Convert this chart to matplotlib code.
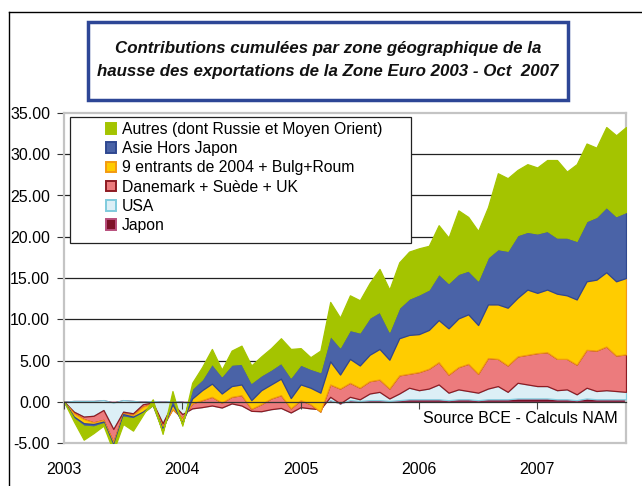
import numpy as np
import matplotlib
matplotlib.use("Agg")
from matplotlib import pyplot as plt
from matplotlib.patches import Rectangle, Patch
from matplotlib.lines import Line2D

plt.rcParams['font.family'] = ['Liberation Sans', 'DejaVu Sans']

#------------- données : contributions mensuelles janv. 2003 -> oct. 2007 -------------
months = np.arange(58)
year_ticks = [0, 12, 24, 36, 48]
year_labels = ["2003", "2004", "2005", "2006", "2007"]

japon = [0, 0.1, 0.1, 0.1, 0.2, -0.1, 0.2, 0.1, 0, 0.1, 0, 0.1,
         0, -0.3, -0.3, -0.2, -0.3, -0.1, -0.2, -0.4, -0.4, -0.3, -0.3, -0.4,
         -0.2, -0.3, -0.3, 0.2, -0.2, 0.2, 0.1, 0.2, 0.2, 0.1, 0.2, 0.3,
         0.3, 0.3, 0.3, 0.2, 0.3, 0.3, 0.2, 0.3, 0.3, 0.3, 0.4, 0.4,
         0.4, 0.4, 0.3, 0.3, 0.2, 0.4, 0.3, 0.3, 0.3, 0.3]
usa = [0, -1.3, -1.9, -1.8, -1.2, -3.2, -1.4, -1.5, -0.3, -0.2, -2.6, -0.3,
       -1.5, -0.5, -0.35, -0.25, -0.4, -0.1, -0.25, -0.7, -0.75, -0.6, -0.45, -0.9,
       -0.45, -0.5, -0.6, 0.4, 0.0, 0.4, 0.2, 0.8, 1.0, 0.3, 0.8, 1.4,
       1.1, 1.3, 1.8, 0.9, 1.2, 1.0, 0.9, 1.3, 1.6, 0.9, 1.9, 1.7,
       1.5, 1.5, 1.1, 1.2, 0.7, 1.3, 1.0, 1.1, 1.0, 0.9]
danemark = [0, -0.2, -0.3, -0.8, -1.2, -1.6, -0.2, -0.2, -0.3, -0.1, -0.4, -0.7,
            -0.5, 0.6, 0.85, 1.05, 0.6, 0.8, 1.25, 0.25, 0.85, 1.3, 1.55, 0.5,
            0.85, 0.5, -0.3, 1.5, 1.8, 1.7, 1.4, 1.5, 1.5, 1.2, 2.2, 1.7,
            2.2, 2.4, 2.7, 2.2, 2.7, 3.3, 2.3, 3.7, 3.3, 3.2, 3.2, 3.6,
            4.0, 4.1, 3.8, 3.7, 3.6, 4.6, 4.9, 5.3, 4.3, 4.55]
entrants = [0, -0.4, -0.5, -0.2, -0.2, -0.3, -0.1, -0.2, -0.6, -0.1, -0.3, 0.6,
            -0.5, 0.6, 1.2, 1.6, 1.1, 1.3, 1.3, 1.05, 1.7, 1.7, 2.0, 1.25,
            1.9, 2.0, 2.3, 2.8, 1.7, 2.9, 2.7, 3.2, 3.7, 3.5, 4.5, 4.7,
            4.6, 4.7, 5.1, 5.6, 5.9, 6.0, 5.9, 6.5, 6.6, 7.0, 7.1, 7.9,
            7.3, 7.6, 7.9, 7.7, 7.9, 8.3, 8.6, 9.0, 9.0, 9.25]
asie = [0, -0.2, -0.3, -0.3, -0.2, -0.3, -0.3, -0.2, -0.15, -0.1, -0.3, 0.7,
        -0.2, 1.2, 1.3, 2.4, 2.1, 2.6, 2.5, 2.1, 1.8, 1.8, 1.9, 2.5,
        2.4, 2.3, 2.5, 3.1, 3.3, 3.5, 4.0, 4.5, 4.5, 3.4, 3.7, 4.4,
        4.8, 4.9, 5.6, 5.5, 5.4, 5.3, 5.4, 5.7, 6.7, 6.9, 7.6, 7.0,
        7.2, 7.1, 6.8, 7.0, 7.1, 7.3, 7.6, 7.9, 7.9, 8.0]
autres = [0, -0.4, -1.7, -0.8, -0.3, -0.5, -0.9, -1.5, -0.25, 0.7, -0.3, 0.9,
          -0.2, 0.7, 1.5, 1.8, 0.8, 1.7, 2.2, 2.1, 2.3, 2.6, 3.0, 3.45,
          2.0, 1.4, 2.6, 4.1, 3.6, 4.2, 3.9, 4.2, 5.2, 5.1, 5.5, 5.7,
          5.6, 5.3, 5.9, 5.5, 7.7, 6.5, 6.0, 6.1, 9.2, 8.8, 7.9, 8.2,
          8.0, 8.6, 9.4, 8.0, 9.3, 9.4, 8.4, 9.7, 9.8, 10.3]

names = ["Japon", "USA", "Danemark + Suède + UK", "9 entrants de 2004 + Bulg+Roum",
         "Asie Hors Japon", "Autres (dont Russie et Moyen Orient)"]
fills = ["#7D1128", "#DCEFF6", "#EC7B7D", "#FFCC00", "#4A63A7", "#A4C400"]
edges = ["#B84F7C", "#7FCBDD", "#8E1B22", "#F39A12", "#2F4890", "#A4C400"]

#------------- figure -------------
W, H = 642, 486
fig = plt.figure(figsize=(W / 100, H / 100), dpi=100)
fig.patch.set_facecolor("white")

def fx(px):
    return px / W

def fy(py):
    return 1 - py / H

ax = fig.add_axes([fx(64), fy(443), fx(626) - fx(64), fy(113) - fy(443)])

series = np.vstack([japon, usa, danemark, entrants, asie, autres])
tops = np.cumsum(series, axis=0)
bottom = np.zeros(len(months))
for k in range(len(names)):
    ax.fill_between(months, bottom, tops[k], facecolor=fills[k], edgecolor=edges[k],
                    linewidth=0.9, zorder=2 + k)
    bottom = tops[k]

ax.set_xlim(0, 57)
ax.set_ylim(-5, 35)
ax.set_yticks(np.arange(-5, 36, 5))
ax.set_yticklabels(["%.2f" % v for v in np.arange(-5, 36, 5)])
ax.tick_params(axis="y", direction="out", length=5, width=0.8, pad=5,
               labelsize=11.5, color="#333333")
ax.set_xticks(year_ticks)
ax.set_xticklabels(year_labels)
ax.tick_params(axis="x", length=0, pad=14, labelsize=11.5)

for v in range(5, 35, 5):
    ax.axhline(v, color="#222222", linewidth=0.9, zorder=1)
for s in ax.spines.values():
    s.set_color("#C4C4C4")
    s.set_linewidth(1.6)

# axe des abscisses a zero avec graduations
sec = ax.secondary_xaxis(5 / 40)
sec.set_xticks(year_ticks)
sec.set_xticklabels([])
sec.tick_params(axis="x", direction="out", length=5, width=0.8, color="#444444")
sec.spines["bottom"].set_color("#333333")
sec.spines["bottom"].set_linewidth(0.9)
sec.set_zorder(10)

ax.text(0.985, 0.075, "Source BCE - Calculs NAM", transform=ax.transAxes,
        ha="right", va="center", fontsize=11.5, zorder=12)

#------------- légende -------------
fig.add_artist(Rectangle((fx(70), fy(243)), fx(411) - fx(70), fy(117) - fy(243),
                         transform=fig.transFigure, facecolor="white",
                         edgecolor="#222222", linewidth=0.9, zorder=5))
handles = [Patch(facecolor=fills[k], edgecolor=edges[k], linewidth=1.4)
           for k in range(len(names) - 1, -1, -1)]
labels = [names[k] for k in range(len(names) - 1, -1, -1)]
leg = fig.legend(handles, labels, loc="upper left", bbox_to_anchor=(fx(106), fy(122)),
                 frameon=False, fontsize=11.3, borderpad=0, borderaxespad=0,
                 handlelength=0.65, handleheight=0.65, handletextpad=0.35,
                 labelspacing=0.27)
leg.set_zorder(6)

#------------- titre -------------
fig.add_artist(Rectangle((fx(88), fy(100)), fx(568) - fx(88), fy(22) - fy(100),
                         transform=fig.transFigure, facecolor="white",
                         edgecolor="#2D4696", linewidth=2.5, zorder=5))
fig.text(fx(328), fy(60), "Contributions cumulées par zone géographique de la\n"
         "hausse des exportations de la Zone Euro 2003 - Oct  2007",
         ha="center", va="center", fontsize=12.2, fontweight="bold", style="italic",
         linespacing=1.6, color="#111111", zorder=6)

#------------- cadre extérieur -------------
fig.add_artist(Line2D([fx(9), fx(9)], [fy(12), 0], transform=fig.transFigure,
                      color="black", linewidth=1.0))
fig.add_artist(Line2D([fx(9), 1], [fy(12), fy(12)], transform=fig.transFigure,
                      color="black", linewidth=1.0))

fig.savefig("out.png", dpi=100)
